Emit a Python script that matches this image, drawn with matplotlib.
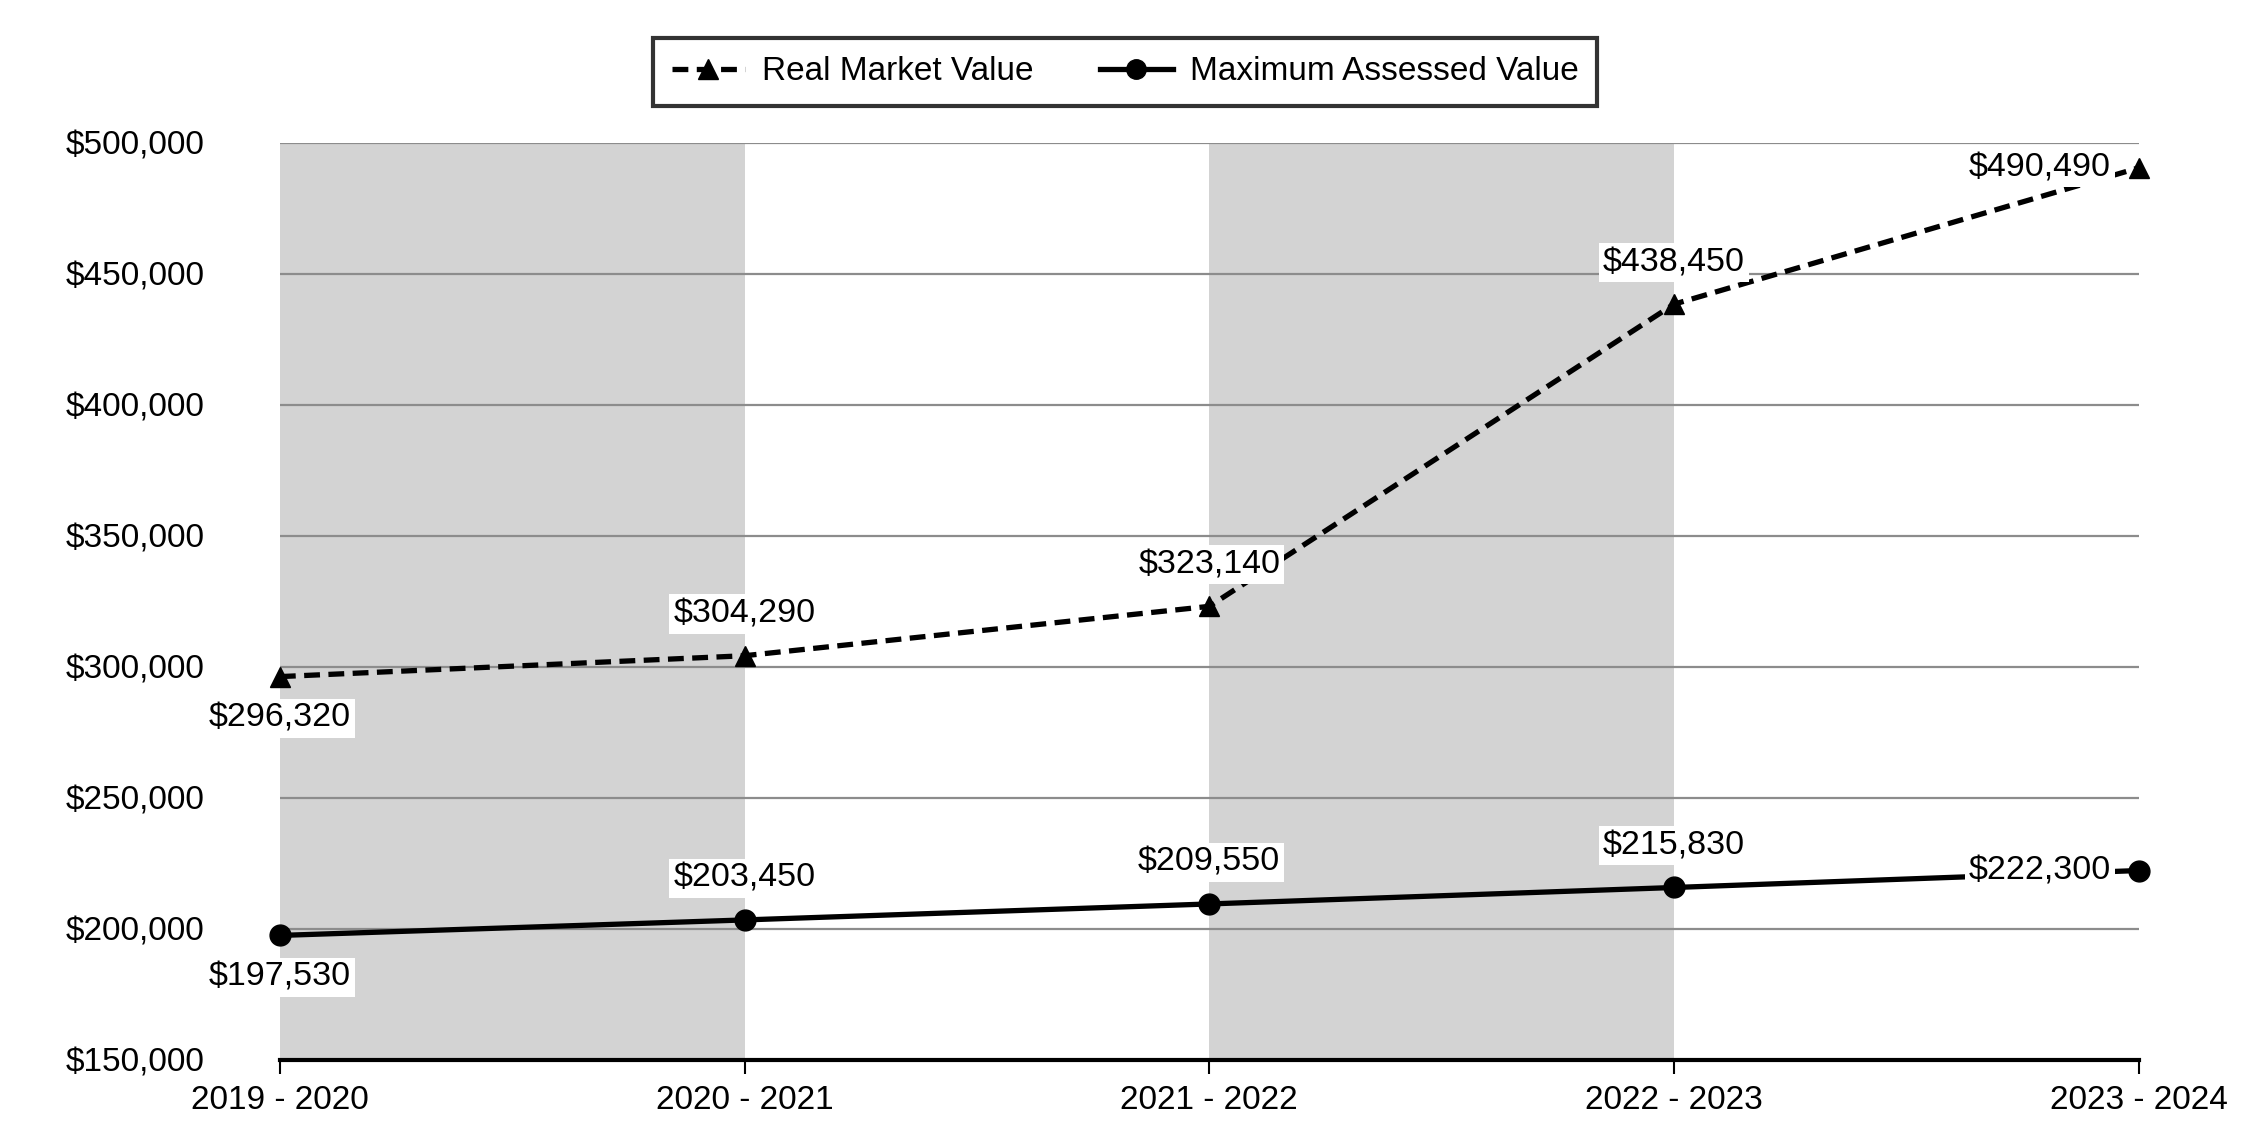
import matplotlib.pyplot as plt
from matplotlib.ticker import FuncFormatter

years = ['2019 - 2020', '2020 - 2021', '2021 - 2022', '2022 - 2023', '2023 - 2024']
real_market = [296320, 304290, 323140, 438450, 490490]
max_assessed = [197530, 203450, 209550, 215830, 222300]

# label placement for each point: (dx, dy) in points
rmv_offsets = [(0, -30), (0, 30), (0, 30), (0, 30), (-20, 0)]
mav_offsets = [(0, -30), (0, 30), (0, 30), (0, 30), (-20, 0)]

plt.rcParams['font.family'] = ['Liberation Sans', 'DejaVu Sans']

fig = plt.figure(figsize=(22.5, 11.4), dpi=100)
ax = fig.add_axes([0.1244, 0.0702, 0.9505 - 0.1244, 0.8746 - 0.0702])

x = list(range(len(years)))

# alternating shaded bands
for i in range(0, len(years) - 1, 2):
    ax.axvspan(i, i + 1, color='#d3d3d3', lw=0, zorder=0)

for v in range(200000, 500001, 50000):
    ax.axhline(v, color='#8c8c8c', lw=1.6, zorder=1)

ax.plot(x, real_market, color='black', lw=3.8, dashes=(3, 1.6),
        marker='^', ms=15, label='Real Market Value', zorder=3, clip_on=False)
ax.plot(x, max_assessed, color='black', lw=3.8,
        marker='o', ms=15, label='Maximum Assessed Value', zorder=3, clip_on=False)


def add_labels(vals, offsets):
    for xi, v, (dx, dy) in zip(x, vals, offsets):
        ha = 'center' if dx == 0 else 'right'
        ax.annotate('${:,}'.format(v), (xi, v), xytext=(dx, dy),
                    textcoords='offset points', ha=ha, va='center',
                    fontsize=24.5, zorder=4,
                    bbox=dict(facecolor='white', edgecolor='none', pad=3))


add_labels(real_market, rmv_offsets)
add_labels(max_assessed, mav_offsets)

ax.set_xlim(0, len(years) - 1)
ax.set_ylim(150000, 500000)
ax.set_xticks(x)
ax.set_xticklabels(years, fontsize=24)
ax.set_yticks(range(150000, 500001, 50000))
ax.yaxis.set_major_formatter(FuncFormatter(lambda v, p: '${:,.0f}'.format(v)))
ax.tick_params(axis='y', length=0, pad=54, labelsize=24)
ax.tick_params(axis='x', length=10, width=1.5, pad=8, direction='out')

for s in ['left', 'right', 'top']:
    ax.spines[s].set_visible(False)
ax.spines['bottom'].set_linewidth(3)
ax.spines['bottom'].set_zorder(5)

leg = fig.legend(loc='center', bbox_to_anchor=(0.5, 0.937), ncol=2,
                 fontsize=24, frameon=True, fancybox=False, edgecolor='black',
                 handlelength=2.2, columnspacing=2.0, borderpad=0.55,
                 handletextpad=0.5)
leg.get_frame().set_linewidth(3)
for h in leg.legend_handles:
    h.set_markersize(14)

fig.savefig('out.png', dpi=100)
